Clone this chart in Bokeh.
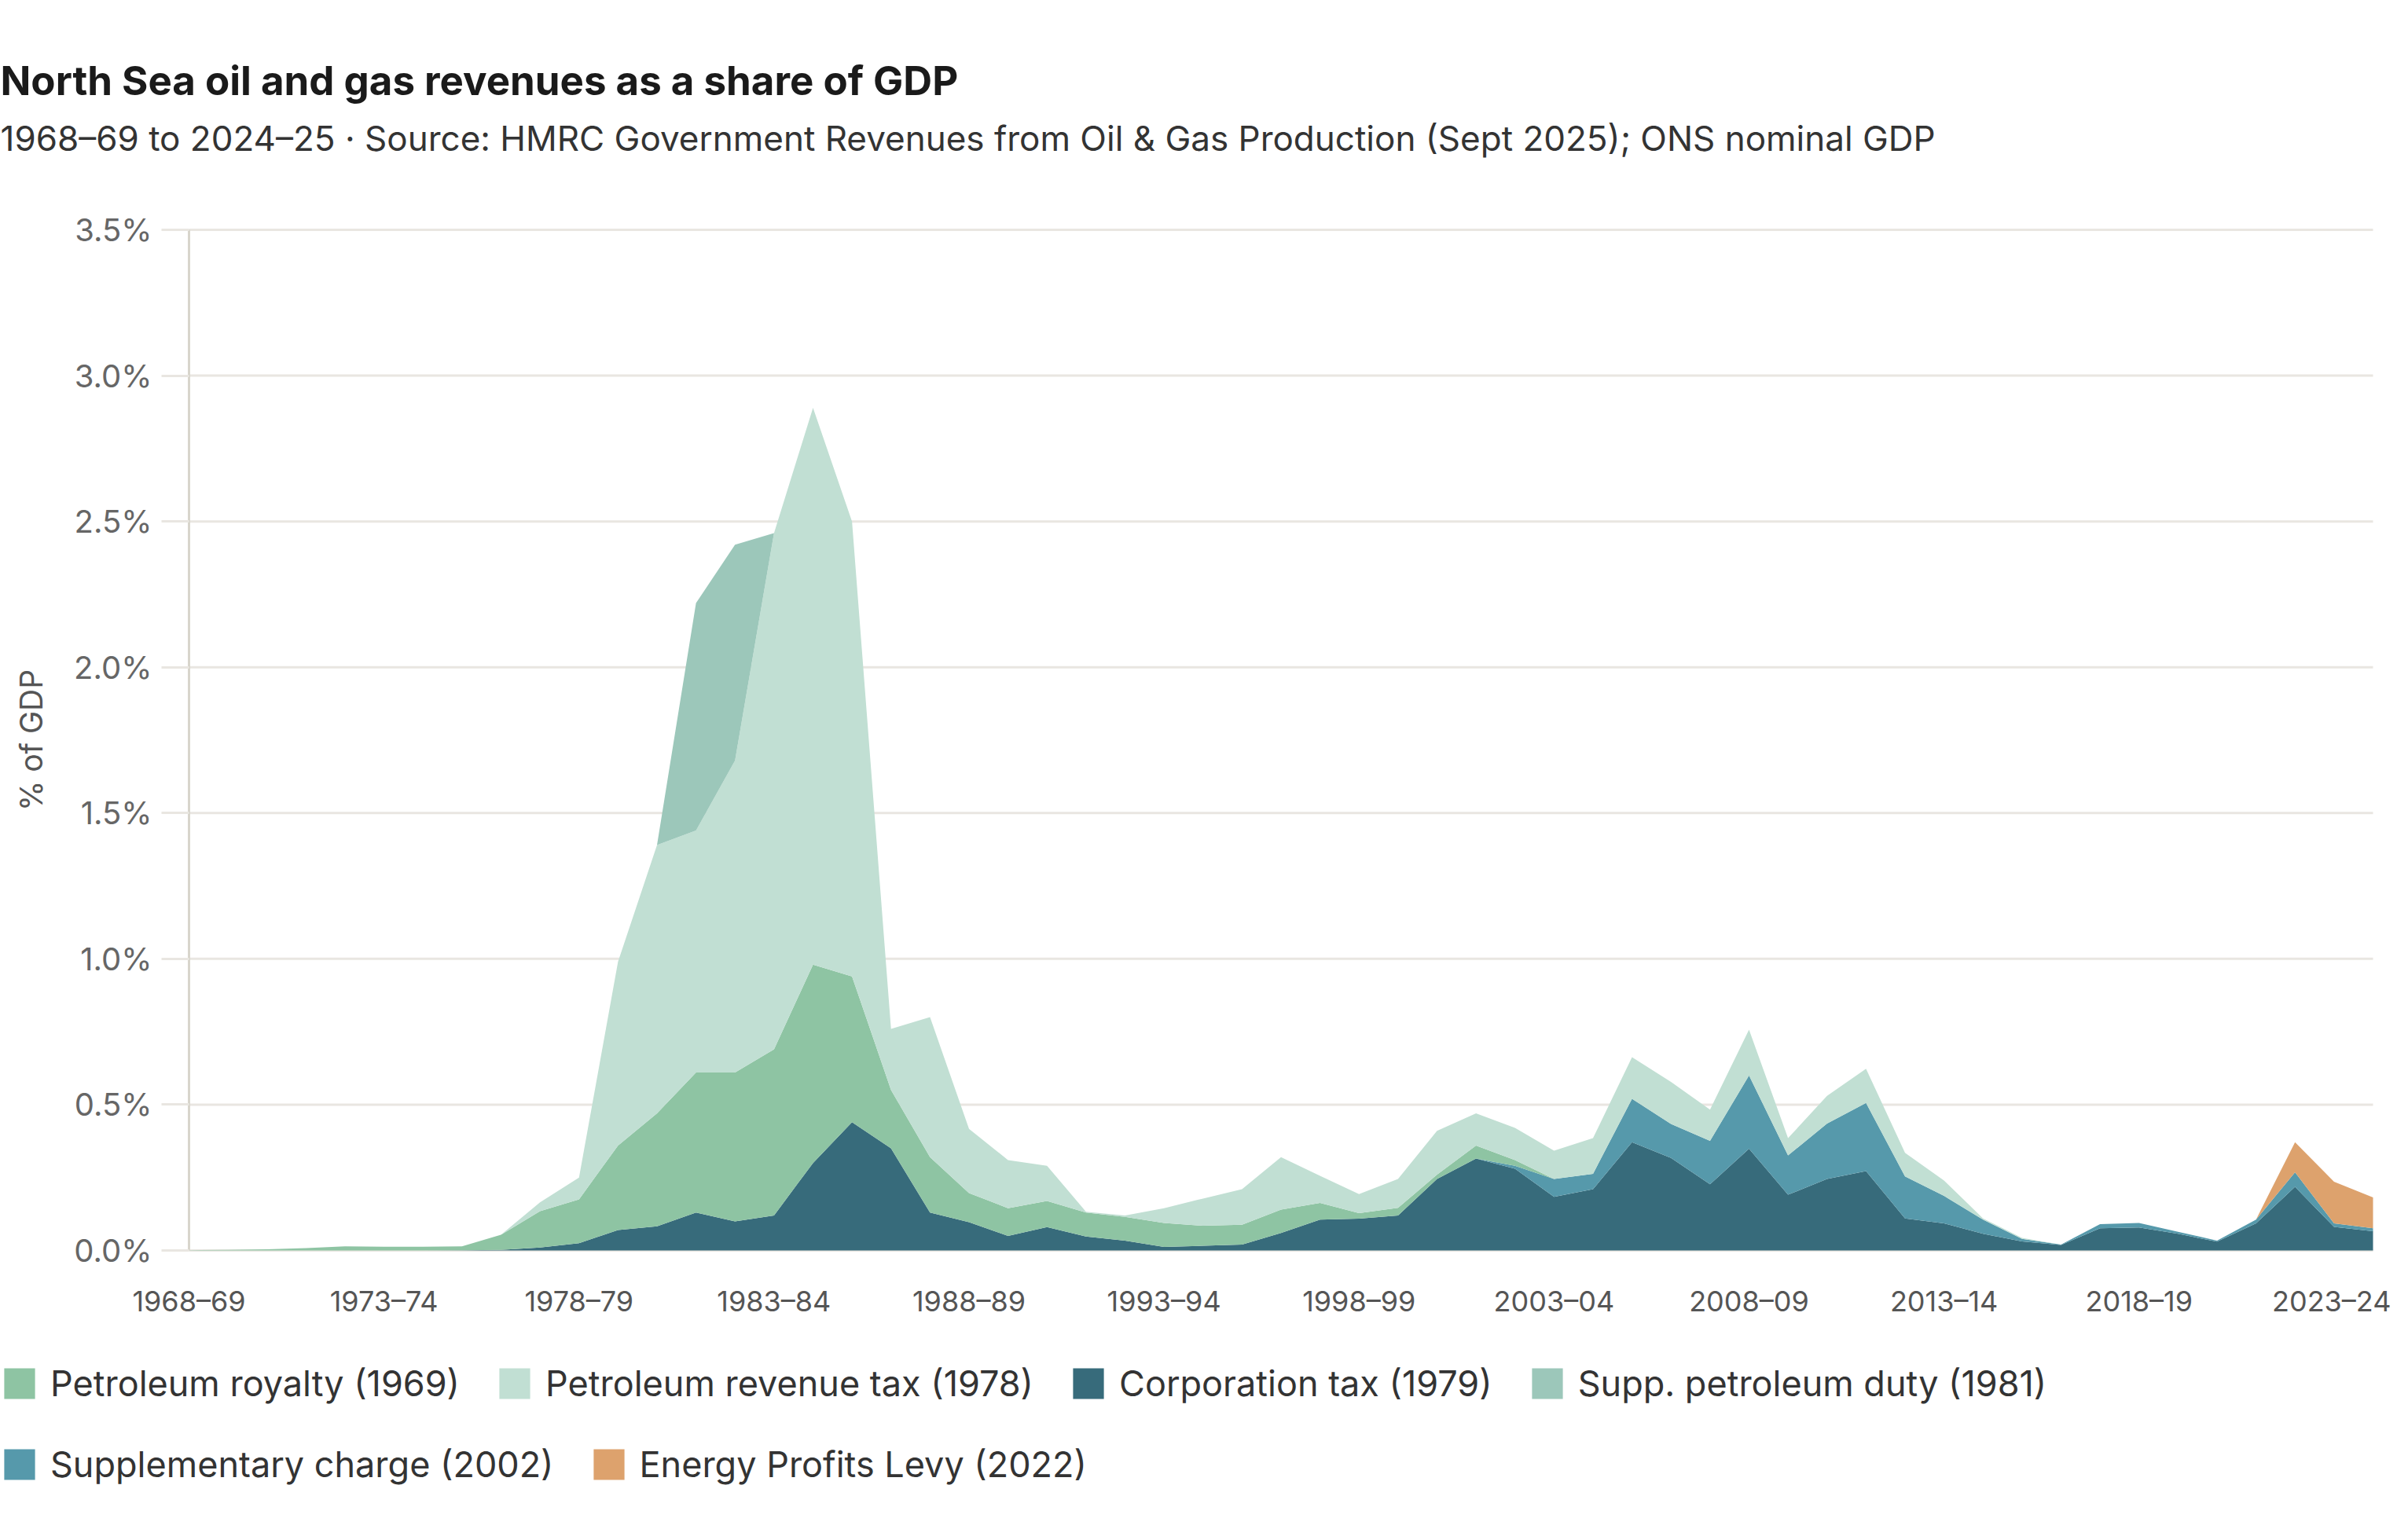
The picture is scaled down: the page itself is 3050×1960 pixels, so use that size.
from bokeh.plotting import figure
from bokeh.models import (Range1d, FixedTicker, PrintfTickFormatter, Title, Legend,
                          LegendItem, ColumnDataSource)
from bokeh.embed import file_html
from bokeh.resources import INLINE

YEARS = ["1968–69", "1969–70", "1970–71", "1971–72", "1972–73", "1973–74", "1974–75",
         "1975–76", "1976–77", "1977–78", "1978–79", "1979–80", "1980–81", "1981–82",
         "1982–83", "1983–84", "1984–85", "1985–86", "1986–87", "1987–88", "1988–89",
         "1989–90", "1990–91", "1991–92", "1992–93", "1993–94", "1994–95", "1995–96",
         "1996–97", "1997–98", "1998–99", "1999–00", "2000–01", "2001–02", "2002–03",
         "2003–04", "2004–05", "2005–06", "2006–07", "2007–08", "2008–09", "2009–10",
         "2010–11", "2011–12", "2012–13", "2013–14", "2014–15", "2015–16", "2016–17",
         "2017–18", "2018–19", "2019–20", "2020–21", "2021–22", "2022–23", "2023–24",
         "2024–25"]

TICK_LABELS = ["1968–69", "1973–74", "1978–79", "1983–84", "1988–89", "1993–94",
               "1998–99", "2003–04", "2008–09", "2013–14", "2018–19", "2023–24"]

Y_TICKS = [0, 0.5, 1.0, 1.5, 2.0, 2.5, 3.0, 3.5]

# % of GDP, one value per financial year
CORPORATION_TAX = [0.0, 0.0, 0.0, 0.0, 0.0, 0.0, 0.0, 0.001, 0.002, 0.01, 0.025, 0.07,
                   0.083, 0.13, 0.10, 0.12, 0.30, 0.44, 0.35, 0.13, 0.097, 0.05, 0.08,
                   0.048, 0.034, 0.012, 0.016, 0.02, 0.06, 0.106, 0.109, 0.12, 0.245,
                   0.315, 0.28, 0.184, 0.21, 0.371, 0.317, 0.227, 0.349, 0.191, 0.245,
                   0.272, 0.11, 0.093, 0.057, 0.031, 0.019, 0.076, 0.079, 0.057, 0.03,
                   0.093, 0.218, 0.081, 0.066]
SUPPLEMENTARY_CHARGE = [0.0] * 34 + [0.01, 0.061, 0.053, 0.149, 0.117, 0.149, 0.251,
                                     0.135, 0.19, 0.234, 0.144, 0.094, 0.049, 0.009,
                                     0.001, 0.014, 0.015, 0.007, 0.004, 0.013, 0.05,
                                     0.012, 0.01]
PETROLEUM_ROYALTY = [0.001, 0.002, 0.004, 0.008, 0.014, 0.013, 0.013, 0.013, 0.052,
                     0.125, 0.15, 0.29, 0.387, 0.48, 0.51, 0.57, 0.68, 0.50, 0.20,
                     0.19, 0.10, 0.095, 0.09, 0.082, 0.081, 0.082, 0.069, 0.068, 0.08,
                     0.057, 0.019, 0.026, 0.015, 0.045, 0.02] + [0.0] * 22
PETROLEUM_REVENUE_TAX = [0.0, 0.0, 0.0, 0.0, 0.0, 0.0, 0.0, 0.0, 0.0, 0.03, 0.075, 0.63,
                         0.92, 0.83, 1.07, 1.77, 1.91, 1.56, 0.21, 0.48, 0.22, 0.165,
                         0.12, 0.003, 0.005, 0.051, 0.093, 0.122, 0.18, 0.093, 0.065,
                         0.099, 0.15, 0.11, 0.11, 0.097, 0.122, 0.143, 0.144, 0.107,
                         0.157, 0.059, 0.095, 0.117, 0.081, 0.053, 0.004, 0.003, 0.0,
                         0.0, 0.0, 0.0, 0.0, 0.0, 0.0, 0.0, 0.0]
SUPP_PETROLEUM_DUTY = [0.0] * 13 + [0.78, 0.74] + [0.0] * 42
ENERGY_PROFITS_LEVY = [0.0] * 54 + [0.103, 0.143, 0.106]

SERIES_KEYS = ["ct", "sc", "roy", "prt", "spd", "epl"]
SERIES_DATA = [CORPORATION_TAX, SUPPLEMENTARY_CHARGE, PETROLEUM_ROYALTY,
               PETROLEUM_REVENUE_TAX, SUPP_PETROLEUM_DUTY, ENERGY_PROFITS_LEVY]
SERIES_LABELS = ["Corporation tax (1979)", "Supplementary charge (2002)",
                 "Petroleum royalty (1969)", "Petroleum revenue tax (1978)",
                 "Supp. petroleum duty (1981)", "Energy Profits Levy (2022)"]
COLORS = ["#376b7b", "#5699ab", "#8ec4a3", "#c1dfd3", "#9cc7ba", "#dda26d"]

LEGEND_ROW1 = ["Petroleum royalty (1969)", "Petroleum revenue tax (1978)",
               "Corporation tax (1979)", "Supp. petroleum duty (1981)"]
LEGEND_ROW2 = ["Supplementary charge (2002)", "Energy Profits Levy (2022)"]

FONT = "Inter"
GRID_COLOR = "#e9e6e1"
W = 3042
H = 1952
TOP_PX = 292         # where 3.5 % sits (px from top)
FRAME_TOP = 250      # frame starts a little higher so the top tick label shows
X0_PX = 240          # where the first year sits (px from left)
X_LAST_PX = 3019     # where the last year sits
ZERO_PX = 1591       # where 0 % sits (px from top)

n_last = len(YEARS) - 1
px_per_year = (X_LAST_PX - X0_PX) / n_last
px_per_pct = (ZERO_PX - TOP_PX) / Y_TICKS[-1]

data = {"x": list(range(len(YEARS)))}
for k, v in zip(SERIES_KEYS, SERIES_DATA):
    data[k] = v
source = ColumnDataSource(data)

# the frame covers the whole canvas below the titles so that axis labels and
# legend (drawn inside it) are never clipped
p = figure(width=W, height=H, output_backend="svg", toolbar_location=None,
           x_range=Range1d(-X0_PX / px_per_year, n_last + (W - X_LAST_PX) / px_per_year),
           y_range=Range1d(-(H - ZERO_PX) / px_per_pct,
                           Y_TICKS[-1] + (TOP_PX - FRAME_TOP) / px_per_pct),
           min_border_left=0, min_border_right=0, min_border_top=FRAME_TOP,
           min_border_bottom=0, title=None)
p.outline_line_color = None
p.background_fill_color = "white"
p.border_fill_color = "white"
p.xgrid.visible = False
p.ygrid.visible = False

# horizontal gridlines spanning the data years only (drawn beneath the areas)
p.segment(x0=0, x1=n_last, y0=Y_TICKS, y1=Y_TICKS, line_color=GRID_COLOR, line_width=3)

renderers = p.varea_stack(stackers=SERIES_KEYS, x="x", color=COLORS, source=source)
by_label = dict(zip(SERIES_LABELS, renderers))

# y axis, pinned at the first year
yax = p.yaxis[0]
yax.fixed_location = 0
yax.bounds = (0, Y_TICKS[-1])
yax.ticker = FixedTicker(ticks=Y_TICKS)
yax.formatter = PrintfTickFormatter(format="%.1f%%")
yax.axis_line_color = "#d8d5cc"
yax.axis_line_width = 3
yax.major_tick_out = 35
yax.major_tick_in = 0
yax.major_tick_line_color = GRID_COLOR
yax.major_tick_line_width = 3
yax.minor_tick_line_color = None
yax.major_label_standoff = 12
yax.major_label_text_font = FONT
yax.major_label_text_font_size = "40px"
yax.major_label_text_color = "#666666"
yax.axis_label = "% of GDP"
yax.axis_label_text_font = FONT
yax.axis_label_text_font_size = "39px"
yax.axis_label_text_font_style = "normal"
yax.axis_label_text_color = "#555555"
yax.axis_label_standoff = 28

# x axis, pinned at 0 %
xax = p.xaxis[0]
xax.fixed_location = 0
tick_pos = [YEARS.index(t) for t in TICK_LABELS]
xax.ticker = FixedTicker(ticks=tick_pos)
xax.major_label_overrides = {i: YEARS[i] for i in tick_pos}
xax.axis_line_color = None
xax.major_tick_line_color = None
xax.minor_tick_line_color = None
xax.major_label_standoff = 36
xax.major_label_text_font = FONT
xax.major_label_text_font_size = "36px"
xax.major_label_text_color = "#555555"

# titles (first added = nearest the plot); a blank spacer keeps them high
spacer = Title(text=" ", text_font_size="1px", standoff=40)
subtitle = Title(text="1968–69 to 2024–25 · Source: HMRC Government Revenues from Oil & Gas "
                      "Production (Sept 2025); ONS nominal GDP",
                 align="left", offset=0, text_font=FONT, text_font_size="44px",
                 text_font_style="normal", text_color="#333333", standoff=10)
title = Title(text="North Sea oil and gas revenues as a share of GDP",
              align="left", offset=0, text_font=FONT, text_font_size="51px",
              text_font_style="bold", text_color="#1a1a1a", standoff=18)
p.add_layout(spacer, "above")
p.add_layout(subtitle, "above")
p.add_layout(title, "above")


def make_legend(labels, loc):
    items = [LegendItem(label=l, renderers=[by_label[l]]) for l in labels]
    return Legend(items=items, orientation="horizontal", location=loc,
                  border_line_color=None, background_fill_alpha=0, padding=0, margin=0,
                  spacing=45, label_standoff=15, glyph_width=49, glyph_height=49,
                  label_text_font=FONT, label_text_font_size="45px",
                  label_text_color="#333333", label_height=55)


p.add_layout(make_legend(LEGEND_ROW1, (0, 164)))
p.add_layout(make_legend(LEGEND_ROW2, (0, 61)))

open("out.html", "w").write(file_html(p, INLINE))
